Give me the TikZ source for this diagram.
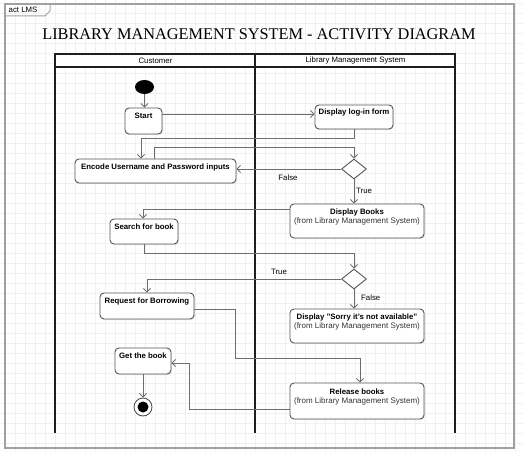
\documentclass[tikz,border=0pt]{standalone}
\usepackage{fontspec}
\setmainfont{Liberation Serif}
\setsansfont{Liberation Sans}
\usetikzlibrary{arrows.meta,shapes.geometric,shadows}
\definecolor{gridc}{HTML}{F0F0F0}
\definecolor{framec}{HTML}{A0A0A0}
\definecolor{linec}{HTML}{6E6E6E}
\definecolor{boxc}{HTML}{555555}
\definecolor{lanec}{HTML}{1E1E1E}
\definecolor{subc}{HTML}{333333}
\tikzset{
  actbox/.style={draw=boxc, line width=0.9pt, rounded corners=4pt, fill=white,
    drop shadow={shadow xshift=1pt, shadow yshift=-1pt, opacity=0.18}, inner sep=0pt},
  acttxt/.style={font=\sffamily\fontsize{8}{9}\selectfont, anchor=north, inner sep=0pt, align=center},
  boldtxt/.style={acttxt, font=\sffamily\bfseries\fontsize{7.8}{9}\selectfont},
  conn/.style={draw=linec, line width=0.9pt, -{Straight Barb[length=3.5pt,width=7pt]}},
  lbl/.style={font=\sffamily\fontsize{7.8}{9}\selectfont, inner sep=0pt},
  lane/.style={draw=lanec, line width=1.6pt},
  hdr/.style={font=\sffamily\fontsize{7.8}{8}\selectfont, inner sep=0pt},
  dec/.style={diamond, draw=boxc, line width=0.9pt, fill=white, inner sep=0pt, minimum width=25pt, minimum height=20pt},
}
\newcommand{\bt}[1]{{\bfseries\fontsize{7.8}{9}\selectfont #1}}
\newcommand{\st}[1]{{\color{subc}\fontsize{8}{9}\selectfont #1}}
\begin{document}
\begin{tikzpicture}[x=1pt,y=-1pt]
\useasboundingbox (0,0) rectangle (523,452);
\fill[white] (0,0) rectangle (523,452);
% grid
\foreach \gx in {5,15,...,515} \draw[gridc, line width=0.6pt] (\gx,0) -- (\gx,452);
\foreach \gy in {3,13,...,443} \draw[gridc, line width=0.6pt] (0,\gy) -- (523,\gy);
% frame
\draw[framec, line width=1.2pt] (5,4) rectangle (514,448);
\draw[framec, line width=1pt] (5,16) -- (45,16) -- (50,11) -- (50,4);
\node[font=\sffamily\fontsize{7.8}{9}\selectfont, anchor=west, inner sep=0pt] (tab) at (8.5,10) {act LMS};
% title
\node[font=\fontsize{16.3}{18}\selectfont, inner sep=0pt] (title) at (259,34.5) {LIBRARY MANAGEMENT SYSTEM - ACTIVITY DIAGRAM};
% swimlanes
\fill[white] (55,54) rectangle (455,67);
\draw[lane] (55,433) -- (55,54) -- (455,54) -- (455,433);
\draw[lane] (55,67) -- (455,67);
\draw[lane] (255,54) -- (255,433);
\node[hdr] (hcust) at (155.5,60.5) {Customer};
\node[hdr] (hlms) at (355.5,60.5) {Library Management System};
% nodes
\node[ellipse, fill=black, minimum width=19pt, minimum height=14pt, inner sep=0pt] (init) at (144.5,87) {};
\node[actbox, minimum width=37pt, minimum height=26pt] (start) at (143.5,121) {};
\node[boldtxt] (startT) at ([yshift=-5.5pt]start.north) {Start};
\node[actbox, minimum width=78pt, minimum height=24pt] (login) at (354,117) {};
\node[boldtxt] (loginT) at ([yshift=-4.5pt]login.north) {Display log-in form};
\node[actbox, minimum width=161pt, minimum height=24pt] (encode) at (155.5,171) {};
\node[boldtxt] (encodeT) at ([yshift=-5.5pt]encode.north) {Encode Username and Password inputs};
\node[dec] (d1) at (354,169) {};
\node[actbox, minimum width=134pt, minimum height=34pt] (books) at (357,221) {};
\node[acttxt] (booksT) at ([yshift=-5pt]books.north) {\bt{Display Books}\\\st{(from Library Management System)}};
\node[actbox, minimum width=68pt, minimum height=25pt] (search) at (144,231.5) {};
\node[boldtxt] (searchT) at ([yshift=-5.5pt]search.north) {Search for book};
\node[dec] (d2) at (354,279) {};
\node[actbox, minimum width=94pt, minimum height=26pt] (request) at (147,306) {};
\node[boldtxt] (requestT) at ([yshift=-5.5pt]request.north) {Request for Borrowing};
\node[actbox, minimum width=134pt, minimum height=34pt] (sorry) at (357,326) {};
\node[acttxt] (sorryT) at ([yshift=-5pt]sorry.north) {\bt{Display "Sorry it's not available"}\\\st{(from Library Management System)}};
\node[actbox, minimum width=134pt, minimum height=36pt] (release) at (357,401) {};
\node[acttxt] (releaseT) at ([yshift=-6pt]release.north) {\bt{Release books}\\\st{(from Library Management System)}};
\node[actbox, minimum width=56pt, minimum height=26pt] (get) at (143,361) {};
\node[boldtxt] (getT) at ([yshift=-5.5pt]get.north) {Get the book};
\node[circle, draw=boxc, line width=0.9pt, fill=white, minimum size=18pt, inner sep=0pt] (final) at (143,407) {};
\node[circle, fill=black, minimum size=11pt, inner sep=0pt] (finalIn) at (final.center) {};
% connectors
\draw[conn] (init.south) -- (init.south |- start.north);
\draw[conn] ([yshift=7pt]start.east) -- ([yshift=7pt]start.east -| login.west);
\draw[conn] (login.south) -- ++(0,9) -| ([xshift=-14.5pt]encode.north);
\draw[conn] ([xshift=-1.5pt]encode.north) -- ++(0,-11) -| (d1.north);
\draw[conn] (d1.west) -- (d1.west -| encode.east);
\node[lbl] (f1) at (288,178) {False};
\draw[conn] (d1.south) -- (d1.south |- books.north);
\node[lbl, anchor=west] (t1) at (356,190.5) {True};
\draw[conn] ([yshift=12pt]books.west) -| ([xshift=-1pt]search.north);
\draw[conn] (search.south) -- ++(0,9) -| (d2.north);
\draw[conn] (d2.west) -| (request.north);
\node[lbl] (t2) at (279,272) {True};
\draw[conn] (d2.south) -- (d2.south |- sorry.north);
\node[lbl, anchor=west] (f2) at (361,298) {False};
\draw[conn] ([yshift=-3pt]request.east) -- ++(41,0) -- ++(0,49) -| ([xshift=3pt]release.north);
\draw[conn] ([yshift=-8pt]release.west) -- ++(-100,0) |- ([yshift=-2pt]get.east);
\draw[conn] (get.south) -- (get.south |- final.north);
\end{tikzpicture}
\end{document}
